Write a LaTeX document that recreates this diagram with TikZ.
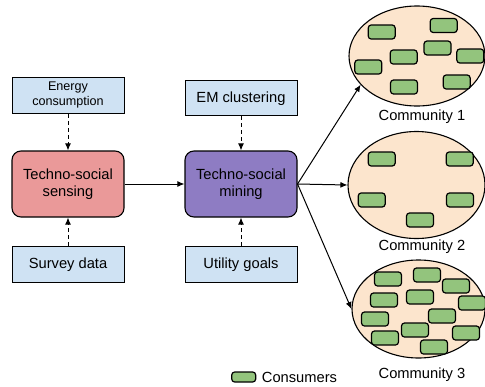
\documentclass[tikz,border=0pt]{standalone}
\usepackage{fontspec}
\setmainfont{Liberation Sans}
\usetikzlibrary{shapes.geometric,arrows.meta}
\definecolor{inputblue}{HTML}{CFE2F3}
\definecolor{sensered}{HTML}{EA9999}
\definecolor{minepurple}{HTML}{8E7CC3}
\definecolor{groupbeige}{HTML}{FCE5CD}
\definecolor{usergreen}{HTML}{93C47D}
\begin{document}
\begin{tikzpicture}[x=1pt, y=-1pt,
    input/.style={draw, line width=1pt, fill=inputblue, minimum width=112pt, minimum height=36pt, inner sep=0pt, align=center, font=\fontsize{14.7}{17.5}\selectfont},
    stage/.style={draw, line width=1.1pt, rounded corners=9pt, minimum width=112pt, minimum height=66pt, inner sep=0pt, align=center, font=\fontsize{14.7}{17.5}\selectfont},
    group/.style={draw, ellipse, line width=1.1pt, fill=groupbeige, inner sep=0pt},
    user/.style={draw, line width=1.2pt, fill=usergreen, rounded corners=3pt, minimum width=27pt, minimum height=14pt, inner sep=0pt},
    label/.style={font=\fontsize{14.7}{17.5}\selectfont, inner sep=0pt}]
        \tikzstyle{arrow}=[line width=1pt, -{Latex[length=7pt, width=6pt]}]
        \tikzstyle{dasharrow}=[arrow, dash pattern=on 4pt off 3pt]
        \useasboundingbox (0, 0) rectangle (485, 386);

        \node[input, font=\fontsize{12.6}{15}\selectfont] (energy) at (68, 95.3) {Energy\\consumption};
        \node[input]                    (survey)  at (68, 264.7) {Survey data};
        \node[stage, fill=sensered]     (sensing) at (68, 184) {Techno-social\\sensing};
        \node[input, minimum height=35pt] (em)    at (241, 98.3) {EM clustering};
        \node[input]                    (utility) at (241, 264.7) {Utility goals};
        \node[stage, fill=minepurple]   (mining)  at (241, 184) {Techno-social\\mining};

        \node[group, minimum width=136pt, minimum height=100pt] (c1) at (417, 56) {};
        \node[group, minimum width=137pt, minimum height=107pt] (c2) at (416.5, 185) {};
        \node[group, minimum width=133pt, minimum height=98pt]  (c3) at (418.5, 309) {};
        \node[label] (l1) at (422, 117) {Community 1};
        \node[label] (l2) at (422, 247) {Community 2};
        \node[label] (l3) at (422, 375) {Community 3};

        \draw[dasharrow] (energy)  -- (sensing);
        \draw[dasharrow] (survey)  -- (sensing);
        \draw[arrow]     (sensing) -- (mining);
        \draw[dasharrow] (em)      -- (mining);
        \draw[dasharrow] (utility) -- (mining);
        \draw[arrow] (mining.east) -- (c1.207);
        \draw[arrow] (mining.east) -- (c2.west);
        \draw[arrow] (mining.east) -- (c3.west);

        \node[user] (u1)  at (381.7, 32) {};
        \node[user] (u2)  at (443.7, 25.5) {};
        \node[user] (u3)  at (437.5, 48) {};
        \node[user] (u4)  at (403.7, 57) {};
        \node[user] (u5)  at (470.3, 56) {};
        \node[user] (u6)  at (368.3, 67) {};
        \node[user] (u7)  at (404, 87) {};
        \node[user] (u8)  at (456.7, 82) {};

        \node[user] (u9)  at (381.7, 159) {};
        \node[user] (u10) at (459.7, 159) {};
        \node[user] (u11) at (371.7, 200) {};
        \node[user] (u12) at (460, 200) {};
        \node[user] (u13) at (420, 220) {};

        \node[user] (u14) at (388, 279) {};
        \node[user] (u15) at (427, 275) {};
        \node[user] (u16) at (456, 286) {};
        \node[user] (u17) at (384, 300) {};
        \node[user] (u18) at (420, 297) {};
        \node[user] (u19) at (472, 303) {};
        \node[user] (u20) at (442, 316) {};
        \node[user] (u21) at (375, 319) {};
        \node[user] (u22) at (415, 330) {};
        \node[user] (u23) at (385, 338) {};
        \node[user] (u24) at (466, 333) {};
        \node[user] (u25) at (434, 347) {};

        \node[user, minimum width=24pt, minimum height=10pt] (key) at (243.7, 377) {};
        \node[label, anchor=west] (keytext) at (261.7, 377) {Consumers};
    \end{tikzpicture}
\end{document}
